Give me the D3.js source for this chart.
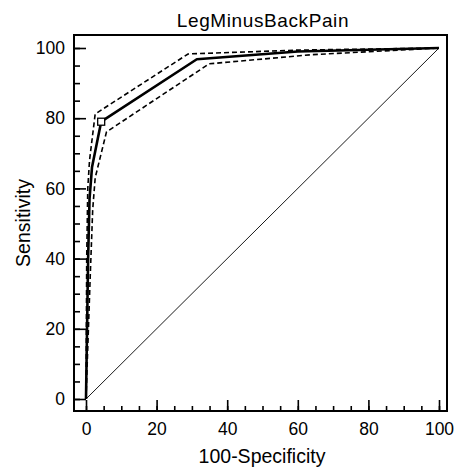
<!DOCTYPE html>
<html>
<head>
<meta charset="utf-8">
<script src="https://cdn.jsdelivr.net/npm/d3@7"></script>
<style>
  body { margin: 0; background: #fff; }
  text { font-family: "Liberation Sans", Arial, sans-serif; fill: #000; }
</style>
</head>
<body>
<div id="chart-area"></div>
<script>
// ROC curve, LegMinusBackPain
const title = "LegMinusBackPain"
const xLabel = "100-Specificity"
const yLabel = "Sensitivity"

const majorTicks = [0, 20, 40, 60, 80, 100]
const minorTicks = d3.range(0, 101, 5)

// [100-specificity, sensitivity]
const rocCurve = [[0, 0], [0.6, 40], [1, 57], [1.7, 66], [4.3, 79], [31.4, 96.8], [60, 99], [100, 100]]
const upperCI = [[0, 0], [0.2, 40], [0.5, 60], [1, 68], [2.6, 81.2], [28.9, 98.3], [60, 99.4], [100, 100]]
const lowerCI = [[0, 0], [1.2, 35], [1.9, 54], [2.6, 63], [5.8, 76.1], [34.9, 95.5], [64, 98.1], [100, 100]]
const cutoff = [4.3, 79]
const diagonal = [[0, 0], [100, 100]]

const W = 454, H = 470
const FRAME = { LEFT: 74, RIGHT: 447, TOP: 35, BOTTOM: 411 }

const svg = d3.select("#chart-area").append("svg")
  .attr("width", W)
  .attr("height", H)

const x = d3.scaleLinear().domain([0, 100]).range([86, 439])
const y = d3.scaleLinear().domain([0, 100]).range([399, 48])

const line = d3.line().x(d => x(d[0])).y(d => y(d[1]))

// diagonal reference
svg.append("path")
  .datum(diagonal)
  .attr("fill", "none")
  .attr("stroke", "#000")
  .attr("stroke-width", 0.9)
  .attr("d", line)

// confidence bounds
;[upperCI, lowerCI].forEach(ci => {
  svg.append("path")
    .datum(ci)
    .attr("fill", "none")
    .attr("stroke", "#000")
    .attr("stroke-width", 1.6)
    .attr("stroke-dasharray", "5,3")
    .attr("d", line)
})

svg.append("path")
  .datum(rocCurve)
  .attr("fill", "none")
  .attr("stroke", "#000")
  .attr("stroke-width", 2.6)
  .attr("stroke-linejoin", "round")
  .attr("d", line)

svg.append("rect")
  .attr("x", x(cutoff[0]) - 3.5)
  .attr("y", y(cutoff[1]) - 3.5)
  .attr("width", 7)
  .attr("height", 7)
  .attr("fill", "#fff")
  .attr("stroke", "#000")
  .attr("stroke-width", 1.3)

// axes, ticks pointing inward
const xMinor = d3.axisBottom(x).tickValues(minorTicks).tickSize(-5).tickFormat("")
const xMajor = d3.axisBottom(x).tickValues(majorTicks).tickSize(-11).tickPadding(12)
const yMinor = d3.axisLeft(y).tickValues(minorTicks).tickSize(-6).tickFormat("")
const yMajor = d3.axisLeft(y).tickValues(majorTicks).tickSize(-12).tickPadding(9)

;[xMinor, xMajor].forEach(ax => {
  svg.append("g")
    .attr("class", "x axis")
    .attr("transform", `translate(0, ${FRAME.BOTTOM})`)
    .call(ax)
})
;[yMinor, yMajor].forEach(ax => {
  svg.append("g")
    .attr("class", "y axis")
    .attr("transform", `translate(${FRAME.LEFT}, 0)`)
    .call(ax)
})

svg.selectAll(".axis .domain").remove()
svg.selectAll(".axis line").attr("stroke", "#000").attr("stroke-width", 1.6)
svg.selectAll(".axis text").style("font-size", "17.5px").attr("fill", "#000")

svg.append("rect")
  .attr("x", FRAME.LEFT)
  .attr("y", FRAME.TOP)
  .attr("width", FRAME.RIGHT - FRAME.LEFT)
  .attr("height", FRAME.BOTTOM - FRAME.TOP)
  .attr("fill", "none")
  .attr("stroke", "#000")
  .attr("stroke-width", 2)

svg.append("text")
  .attr("x", 263)
  .attr("y", 27)
  .attr("text-anchor", "middle")
  .style("font-size", "19px")
  .style("letter-spacing", "0.6px")
  .text(title)

svg.append("text")
  .attr("x", 262)
  .attr("y", 463)
  .attr("text-anchor", "middle")
  .style("font-size", "19.5px")
  .text(xLabel)

svg.append("text")
  .attr("transform", "translate(30, 223) rotate(-90)")
  .attr("text-anchor", "middle")
  .style("font-size", "19.5px")
  .text(yLabel)
</script>
</body>
</html>
